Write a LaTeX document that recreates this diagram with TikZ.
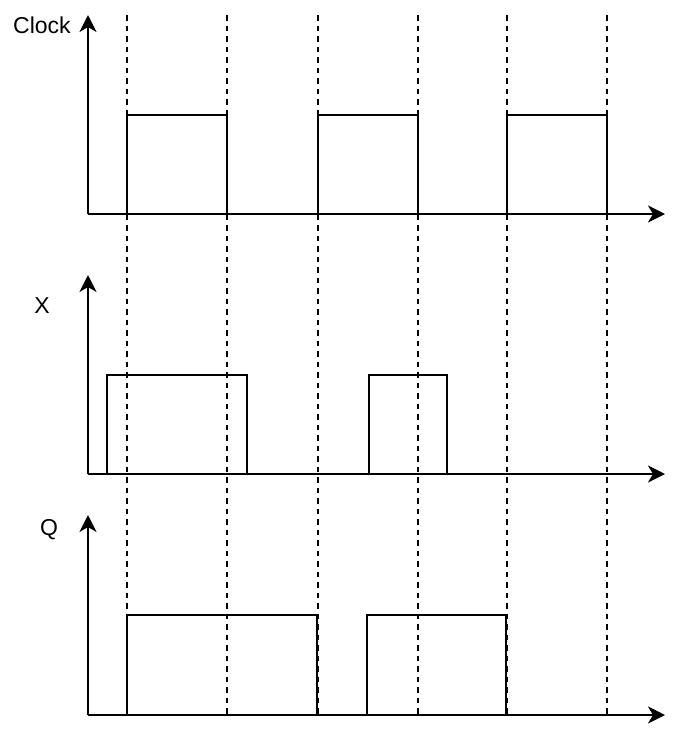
\documentclass[tikz,border=0pt]{standalone}
\usepackage{fontspec}
\setmainfont{Liberation Sans}
\usetikzlibrary{arrows.meta}
\begin{document}
\begin{tikzpicture}[x=1pt,y=-1pt,
  axis/.style={line width=2pt,-{Stealth[length=17pt,width=17pt,inset=5pt]}},
  wave/.style={line width=2pt,line join=miter},
  guide/.style={line width=1.8pt,dash pattern=on 5.5pt off 5pt},
  lbl/.style={font=\fontsize{23}{26}\selectfont,inner sep=0pt}]
\useasboundingbox (0,0) rectangle (684,732);
% dashed guides
\foreach \t [count=\i] in {127,227,318,418,507,607}{
  \coordinate (g\i top) at (\t,15);
  \coordinate (g\i bot) at (\t,715);
  \draw[guide] (g\i top) -- (g\i bot);
}
% axes
\coordinate (c0) at (88,214); \coordinate (cy) at (88,15); \coordinate (cx) at (665,214);
\coordinate (x0) at (88,474); \coordinate (xy) at (88,275); \coordinate (xx) at (665,474);
\coordinate (q0) at (88,715); \coordinate (qy) at (88,515); \coordinate (qx) at (665,715);
\draw[axis] (c0) -- (cy);
\draw[axis] (c0) -- (cx);
\draw[axis] (x0) -- (xy);
\draw[axis] (x0) -- (xx);
\draw[axis] (q0) -- (qy);
\draw[axis] (q0) -- (qx);
% clock
\draw[wave] (127,214) -- (127,115) -- (227,115) -- (227,214);
\draw[wave] (318,214) -- (318,115) -- (418,115) -- (418,214);
\draw[wave] (507,214) -- (507,115) -- (607,115) -- (607,214);
% X
\draw[wave] (107,474) -- (107,375) -- (247,375) -- (247,474);
\draw[wave] (369,474) -- (369,375) -- (447,375) -- (447,474);
% Q
\draw[wave] (127,715) -- (127,615) -- (317,615) -- (317,715);
\draw[wave] (367,715) -- (367,615) -- (506,615) -- (506,715);
% labels
\node[lbl] (clk) at (42,25) {Clock};
\node[lbl] (xl) at (42,306) {X};
\node[lbl] (ql) at (49,530) {Q};
\end{tikzpicture}
\end{document}
